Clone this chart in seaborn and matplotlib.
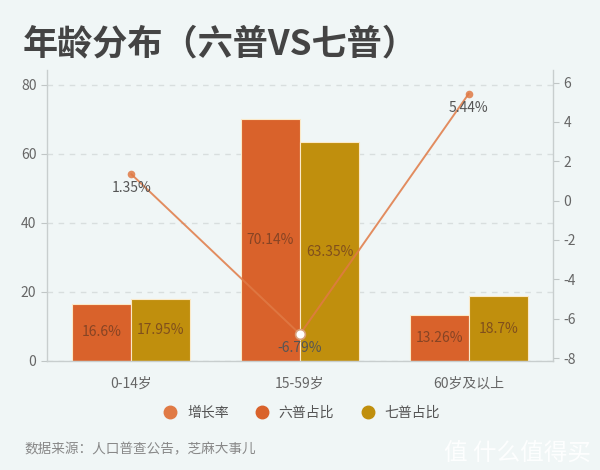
import seaborn as sns
import matplotlib.pyplot as plt
import pandas as pd
from matplotlib.lines import Line2D

sns.set_style('white')
plt.rcParams['font.family'] = ['Noto Sans CJK SC', 'DejaVu Sans']
plt.rcParams['axes.unicode_minus'] = False

categories = ['0-14岁', '15-59岁', '60岁及以上']
share_6th = [16.6, 70.14, 13.26]
share_7th = [17.95, 63.35, 18.7]
growth = [1.35, -6.79, 5.44]
series_names = ['六普占比', '七普占比']

bg = '#f0f6f6'
c_line = '#e07a45'
c_6 = '#d9622b'
c_7 = '#c08f0d'

df = pd.DataFrame({
    'cat': categories * 2,
    'value': share_6th + share_7th,
    'series': [series_names[0]] * 3 + [series_names[1]] * 3,
})
line_df = pd.DataFrame({'cat': categories, 'growth': growth})

fig = plt.figure(figsize=(6, 4.7), dpi=100, facecolor=bg)
ax = fig.add_axes([0.078, 0.232, 0.844, 0.619])
ax.set_facecolor(bg)

sns.barplot(data=df, x='cat', y='value', hue='series', palette=[c_6, c_7],
            saturation=1, width=0.7, edgecolor='#fbe9c8', linewidth=0.8,
            ax=ax, legend=False)
ax.set_ylim(0, 84.3)
ax.set_xlim(-0.5, 2.5)
ax.set_yticks([0, 20, 40, 60, 80])
ax.yaxis.grid(True, linestyle=(0, (4, 4)), color='#d8dede', linewidth=1)
ax.set_axisbelow(True)
ax.set_xlabel('')
ax.set_ylabel('')

for cont in ax.containers:
    ax.bar_label(cont, labels=['{:g}%'.format(v) for v in cont.datavalues],
                 label_type='center', fontsize=10, color='#6b3a22', alpha=0.75)

ax2 = ax.twinx()
sns.lineplot(data=line_df, x='cat', y='growth', color=c_line, linewidth=1.4,
             marker='o', markersize=5.5, markeredgewidth=0, alpha=0.85, ax=ax2, sort=False)
i_low = growth.index(min(growth))
ax2.plot([i_low], [growth[i_low]], marker='o', markersize=7, markerfacecolor='white',
         markeredgecolor='#d9a07a', markeredgewidth=1.2, linestyle='none')
for i, v in enumerate(growth):
    ax2.annotate('{:g}%'.format(v), (i, v), xytext=(0, -10), textcoords='offset points',
                 ha='center', va='center', fontsize=10, color='#555555')
ax2.set_ylim(-8.15, 6.64)
ax2.set_yticks(range(-8, 7, 2))
ax2.set_ylabel('')

for a in (ax, ax2):
    for s in a.spines.values():
        s.set_visible(False)
    a.tick_params(colors='#c0c6c6', labelcolor='#666666', labelsize=10, length=4, width=0.8)
ax.spines['left'].set_visible(True)
ax.spines['bottom'].set_visible(True)
ax2.spines['right'].set_visible(True)
for s in (ax.spines['left'], ax.spines['bottom'], ax2.spines['right']):
    s.set_color('#c8cece')
    s.set_linewidth(1)
ax.tick_params(axis='x', labelsize=10, pad=7)

handles = [Line2D([], [], marker='o', linestyle='none', markersize=9, color=c)
           for c in (c_line, c_6, c_7)]
fig.legend(handles, ['增长率'] + series_names, loc='center', bbox_to_anchor=(0.497, 0.121),
           ncol=3, frameon=False, fontsize=10, labelcolor='#555555',
           handletextpad=0.2, columnspacing=1.4)

fig.text(0.037, 0.906, '年龄分布（六普VS七普）', fontsize=25.3, fontweight='bold',
         color='#444444', va='center', ha='left')
fig.text(0.04, 0.043, '数据来源：人口普查公告，芝麻大事儿', fontsize=9.8,
         color='#888888', va='center', ha='left')
fig.text(0.985, 0.034, '值 什么值得买', fontsize=17, color='white', alpha=0.9,
         va='center', ha='right')

fig.savefig('out.png', dpi=100, facecolor=bg)
